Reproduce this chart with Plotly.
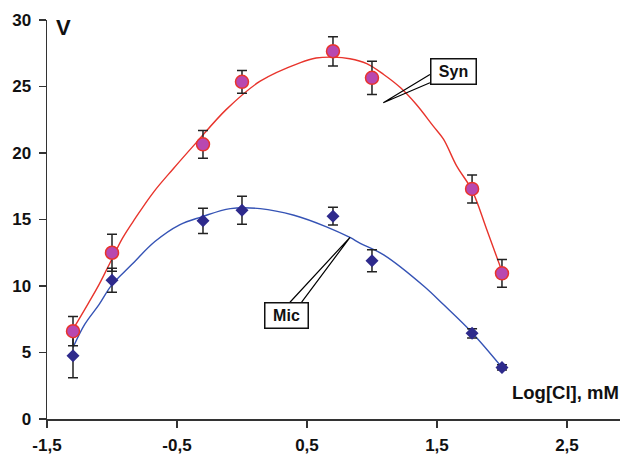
import plotly.graph_objects as go

# Data points
log_cl = [-1.3, -1.0, -0.3, 0.0, 0.7, 1.0, 1.77, 2.0]
syn_v = [6.6, 12.5, 20.65, 25.35, 27.65, 25.65, 17.3, 10.95]
syn_err = [1.1, 1.4, 1.05, 0.85, 1.1, 1.25, 1.05, 1.05]
mic_v = [4.75, 10.43, 14.9, 15.7, 15.25, 11.9, 6.44, 3.88]
mic_err = [1.65, 0.9, 0.95, 1.05, 0.67, 0.83, 0.35, 0.2]

# Fitted curves
syn_fit_x = [-1.30, -1.18, -1.10, -1.01, -0.92, -0.82, -0.68, -0.53, -0.35, -0.12,
             0.14, 0.45, 0.57, 0.70, 0.83, 0.96, 1.09, 1.22, 1.34, 1.47, 1.55,
             1.65, 1.77, 1.88, 2.00]
syn_fit_y = [6.74, 8.73, 10.1, 11.84, 13.58, 15.1, 17.06, 18.8, 20.8, 23.28,
             25.4, 26.8, 27.14, 27.21, 27.09, 26.72, 25.9, 24.9, 23.66, 22.04, 21.04,
             19.05, 17.19, 14.33, 11.1]
mic_fit_x = [-1.30, -1.21, -1.10, -1.00, -0.85, -0.67, -0.48, -0.31, -0.09, 0.14,
             0.40, 0.65, 0.83, 0.91, 1.09, 1.40, 1.55, 1.77, 2.00]
mic_fit_y = [5.37, 7.11, 8.6, 10.1, 11.59, 13.34, 14.6, 15.2, 15.82, 15.82,
             15.32, 14.45, 13.65, 13.21, 12.34, 9.98, 8.6, 6.49, 3.88]

x_tickvals = [-1.5, -0.5, 0.5, 1.5, 2.5]
x_ticktext = ["-1,5", "-0,5", "0,5", "1,5", "2,5"]
y_tickvals = [0, 5, 10, 15, 20, 25, 30]

FONT = "Arial, Liberation Sans, sans-serif"
AX = "#333333"

fig = go.Figure()
fig.add_trace(go.Scatter(x=syn_fit_x, y=syn_fit_y, mode="lines",
                         line=dict(color="#e8342c", width=1.4, shape="spline"),
                         hoverinfo="skip"))
fig.add_trace(go.Scatter(x=mic_fit_x, y=mic_fit_y, mode="lines",
                         line=dict(color="#3553b5", width=1.4, shape="spline"),
                         hoverinfo="skip"))
fig.add_trace(go.Scatter(x=log_cl, y=mic_v, mode="markers",
                         marker=dict(symbol="diamond", size=10, color="#2e2a8c",
                                     line=dict(width=0)),
                         error_y=dict(type="data", array=mic_err, color="#222222",
                                      thickness=1.5, width=5)))
fig.add_trace(go.Scatter(x=log_cl, y=syn_v, mode="markers",
                         marker=dict(symbol="circle", size=13, color="#b848b0",
                                     line=dict(color="#e8342c", width=1.5)),
                         error_y=dict(type="data", array=syn_err, color="#222222",
                                      thickness=1.5, width=5)))

# callout wedges
fig.add_shape(type="path", xref="x", yref="y",
              path="M 1.446 25.9 L 1.087 23.78 L 1.446 25.28",
              line=dict(color="black", width=1.2), layer="above")
fig.add_shape(type="path", xref="x", yref="y",
              path="M 0.369 8.78 L 0.831 13.66 L 0.459 8.78",
              line=dict(color="black", width=1.2), layer="above")

ann_font = dict(family=FONT, size=16, color="#111111", weight="bold")
fig.add_annotation(x=1.625, y=26.1, xref="x", yref="y", text="Syn", showarrow=False,
                   font=ann_font, bgcolor="white", bordercolor="#111111",
                   borderwidth=1.5, borderpad=0, width=44, height=24)
fig.add_annotation(x=0.342, y=7.78, xref="x", yref="y", text="Mic", showarrow=False,
                   font=ann_font, bgcolor="white", bordercolor="#111111",
                   borderwidth=1.5, borderpad=0, width=42, height=24)
fig.add_annotation(x=-1.373, y=29.4, xref="x", yref="y", text="V", showarrow=False,
                   xanchor="center", yanchor="middle",
                   font=dict(family=FONT, size=22, color="#111111", weight="bold"))
fig.add_annotation(x=2.06, y=2.0, xref="x", yref="y", text="Log[Cl], mM",
                   showarrow=False, xanchor="left", yanchor="middle",
                   font=dict(family=FONT, size=18.5, color="#111111", weight="bold"))

tickfont = dict(family=FONT, size=17, color="#111111", weight="bold")
fig.update_layout(
    width=620, height=455,
    margin=dict(l=47, r=0, t=20, b=33),
    paper_bgcolor="white", plot_bgcolor="white",
    showlegend=False,
    separators=", ",
    xaxis=dict(range=[-1.5, 2.908], showgrid=False, zeroline=False,
               showline=True, linecolor=AX, linewidth=1.5,
               ticks="outside", ticklen=7, tickwidth=1.5, tickcolor=AX,
               tickvals=x_tickvals, ticktext=x_ticktext, tickfont=tickfont,
               ticklabelstandoff=3),
    yaxis=dict(range=[0, 30], showgrid=False, zeroline=False,
               showline=True, linecolor=AX, linewidth=1.5,
               ticks="outside", ticklen=7, tickwidth=1.5, tickcolor=AX,
               tickvals=y_tickvals, tickfont=tickfont, ticklabelstandoff=4),
)

fig.write_html("out.html",
               config={"displayModeBar": False, "staticPlot": True},
               post_script="document.body.style.margin='0';"
                           "document.body.style.overflow='hidden';")
